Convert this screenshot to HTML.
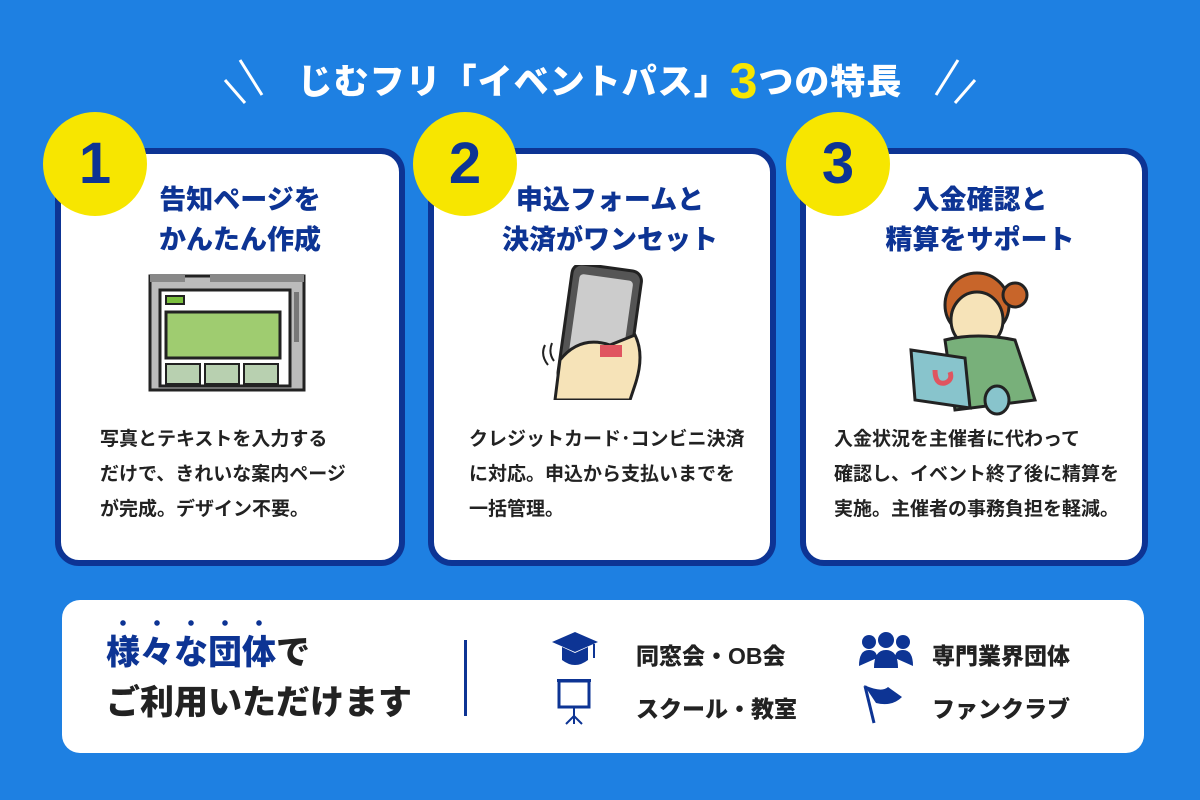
<!DOCTYPE html>
<html><head><meta charset="utf-8"><style>
*{margin:0;padding:0;box-sizing:border-box}
body{width:1200px;height:800px;background:#1e80e2;position:relative;overflow:hidden;font-family:"Liberation Sans","Noto Sans CJK JP",sans-serif}
.a{position:absolute}
.title{left:0;width:1200px;top:52px;text-align:center;color:#fff;font-size:35px;font-weight:900;letter-spacing:1px}
.title b{color:#f7e600;font-size:50px;vertical-align:-4px}
.card{background:#fff;border:6px solid #0d3494;border-radius:24px}
.circ{width:104px;height:104px;border-radius:50%;background:#f7e600;color:#0d3494;font-size:58px;font-weight:900;text-align:center;line-height:104px}
.h{color:#0d3494;font-size:27px;font-weight:900;text-align:center;line-height:40px}
.t{color:#222;font-size:19px;line-height:35px;font-weight:700}
.bt{font-size:34px;font-weight:900;color:#222;line-height:50px}
.it{font-size:23px;font-weight:900;color:#222}
</style></head><body>
<div class="a title">じむフリ「イベントパス」<b>3</b>つの特長</div>
<svg class="a" style="left:220px;top:55px" width="60" height="50"><path d="M20 5 L42 40 M5 25 L25 48" stroke="#fff" stroke-width="3"/></svg>
<svg class="a" style="left:920px;top:55px" width="60" height="50"><path d="M38 5 L16 40 M55 25 L35 48" stroke="#fff" stroke-width="3"/></svg>

<div class="a card" style="left:55px;top:148px;width:350px;height:418px"></div>
<div class="a card" style="left:428px;top:148px;width:348px;height:418px"></div>
<div class="a card" style="left:800px;top:148px;width:348px;height:418px"></div>
<div class="a circ" style="left:43px;top:112px">1</div>
<div class="a circ" style="left:413px;top:112px">2</div>
<div class="a circ" style="left:786px;top:112px">3</div>

<div class="a h" style="left:130px;width:220px;top:180px">告知ページを<br>かんたん作成</div>
<div class="a h" style="left:490px;width:240px;top:180px">申込フォームと<br>決済がワンセット</div>
<div class="a h" style="left:860px;width:240px;top:180px">入金確認と<br>精算をサポート</div>

<svg class="a" style="left:148px;top:272px" width="160" height="122">
<rect x="2" y="4" width="154" height="114" fill="#bbb" stroke="#222" stroke-width="3"/>
<rect x="2" y="2" width="35" height="8" fill="#888"/><rect x="62" y="2" width="94" height="8" fill="#888"/>
<rect x="12" y="18" width="130" height="96" fill="#fff" stroke="#222" stroke-width="3"/>
<rect x="18" y="24" width="18" height="8" fill="#7bbf3e" stroke="#222" stroke-width="2"/>
<rect x="18" y="40" width="114" height="46" fill="#9fcc70" stroke="#222" stroke-width="3"/>
<rect x="18" y="92" width="34" height="20" fill="#b8d0b0" stroke="#222" stroke-width="2"/>
<rect x="57" y="92" width="34" height="20" fill="#b8d0b0" stroke="#222" stroke-width="2"/>
<rect x="96" y="92" width="34" height="20" fill="#b8d0b0" stroke="#222" stroke-width="2"/>
<rect x="146" y="20" width="5" height="50" fill="#777"/>
</svg>
<svg class="a" style="left:540px;top:265px" width="110" height="135">
<rect x="25" y="2" width="70" height="120" rx="10" fill="#555" stroke="#222" stroke-width="3" transform="rotate(8 60 60)"/>
<rect x="33" y="12" width="54" height="95" rx="4" fill="#ccc" transform="rotate(8 60 60)"/>
<path d="M15 135 L20 95 Q40 70 70 80 L95 70 Q105 90 95 120 L90 135Z" fill="#f6e3b8" stroke="#222" stroke-width="3"/>
<rect x="60" y="80" width="22" height="12" fill="#e05560"/>
<path d="M5 80 Q0 90 8 100 M12 78 Q8 88 14 96" stroke="#222" stroke-width="2" fill="none"/>
</svg>
<svg class="a" style="left:905px;top:260px" width="140" height="160">
<circle cx="72" cy="45" r="32" fill="#c8652a" stroke="#222" stroke-width="3"/>
<circle cx="110" cy="35" r="12" fill="#c8652a" stroke="#222" stroke-width="3"/>
<ellipse cx="72" cy="60" rx="26" ry="28" fill="#f6e3b8" stroke="#222" stroke-width="3"/>
<path d="M40 80 Q72 72 110 80 L130 140 L50 150Z" fill="#78b07a" stroke="#222" stroke-width="3"/>
<path d="M6 90 L60 98 L65 148 L10 140Z" fill="#88c4cc" stroke="#222" stroke-width="3"/>
<path d="M30 110 Q30 125 40 123 Q48 120 45 112" stroke="#e05560" stroke-width="5" fill="none"/>
<ellipse cx="92" cy="140" rx="12" ry="14" fill="#88c4cc" stroke="#222" stroke-width="3"/>
</svg>

<div class="a t" style="left:100px;top:422px">写真とテキストを入力する<br>だけで、きれいな案内ページ<br>が完成。デザイン不要。</div>
<div class="a t" style="left:469px;top:422px">クレジットカード･コンビニ決済<br>に対応。申込から支払いまでを<br>一括管理。</div>
<div class="a t" style="left:834px;top:422px">入金状況を主催者に代わって<br>確認し、イベント終了後に精算を<br>実施。主催者の事務負担を軽減。</div>

<div class="a" style="left:62px;top:600px;width:1082px;height:153px;background:#fff;border-radius:18px"></div>
<div class="a bt" style="left:106px;top:628px"><span style="color:#0d3494">様々な団体</span>で<br>ご利用いただけます</div>
<div class="a" style="left:106px;top:620px;width:170px;height:6px;background:radial-gradient(circle,#0d3494 2.5px,transparent 3px) 0 0/34px 6px repeat-x"></div>
<div class="a" style="left:464px;top:640px;width:3px;height:76px;background:#0d3494"></div>

<svg class="a" style="left:550px;top:630px" width="50" height="40"><path d="M2 12 L25 2 L48 12 L25 22Z" fill="#0d3494"/><path d="M12 17 V30 Q25 40 38 30 V17 L25 23Z" fill="#0d3494"/><path d="M44 14 V28" stroke="#0d3494" stroke-width="2"/></svg>
<div class="a it" style="left:636px;top:637px">同窓会・OB会</div>
<svg class="a" style="left:556px;top:678px" width="40" height="50"><rect x="3" y="3" width="30" height="26" fill="none" stroke="#0d3494" stroke-width="3"/><rect x="1" y="1" width="34" height="3" fill="#0d3494"/><path d="M18 29 V38 L10 46 M18 38 L26 46 M18 38 V46" stroke="#0d3494" stroke-width="2" fill="none"/></svg>
<div class="a it" style="left:636px;top:690px">スクール・教室</div>
<svg class="a" style="left:857px;top:632px" width="58" height="38"><circle cx="12" cy="10" r="7" fill="#0d3494"/><circle cx="29" cy="8" r="8" fill="#0d3494"/><circle cx="46" cy="10" r="7" fill="#0d3494"/><path d="M2 34 Q2 18 12 18 Q20 18 20 26Z M38 26 Q38 18 46 18 Q56 18 56 34Z M17 36 Q17 18 29 18 Q41 18 41 36Z" fill="#0d3494"/></svg>
<div class="a it" style="left:932px;top:637px">専門業界団体</div>
<svg class="a" style="left:862px;top:683px" width="46" height="42"><path d="M2 2 Q20 10 26 4 L40 14 Q30 24 14 20Z" fill="#0d3494"/><path d="M3 3 L12 40" stroke="#0d3494" stroke-width="3"/></svg>
<div class="a it" style="left:932px;top:690px">ファンクラブ</div>
</body></html>
